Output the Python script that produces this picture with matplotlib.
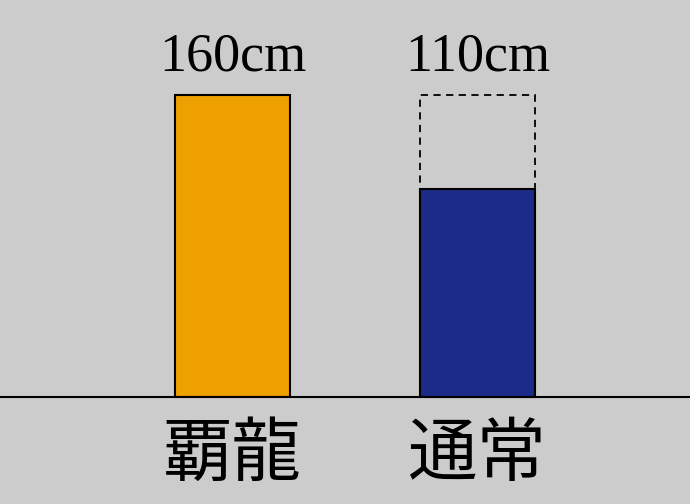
import matplotlib.pyplot as plt

categories = ['覇龍', '通常']
heights = [160, 110]
value_labels = ['160cm', '110cm']
ghost_height = 160  # dashed outline for the second bar
bar_colors = ['#eea000', '#1c2a88']

bg = '#cccccc'
fig = plt.figure(figsize=(6.9, 5.04), dpi=100, facecolor=bg)
ax = fig.add_axes([0, 0, 1, 1])
ax.set_facecolor(bg)

x = [0, 1]
w = 0.47
ax.bar(x, heights, width=w, color=bar_colors, edgecolor='black', linewidth=1.5, zorder=2)
# dashed outline showing the missing part
ax.bar(x[1], ghost_height - heights[1], bottom=heights[1], width=w, fill=False,
       edgecolor='black', linestyle=(0, (4, 3)), linewidth=1.3, zorder=3)

ax.axhline(0, color='black', linewidth=1.5, zorder=4)

for xi, lab in zip(x, value_labels):
    ax.text(xi, 173, lab, ha='center', va='baseline', fontsize=39,
            family='Liberation Serif', color='black')
for xi, cat in zip(x, categories):
    ax.text(xi, -31, cat, ha='center', va='center', fontsize=50,
            family=['Noto Sans CJK JP', 'DejaVu Sans'], color='black')

ax.set_xlim(-0.949, 1.867)
ax.set_ylim(-56.7, 210.3)
ax.axis('off')

fig.savefig('out.png', dpi=100, facecolor=bg)
